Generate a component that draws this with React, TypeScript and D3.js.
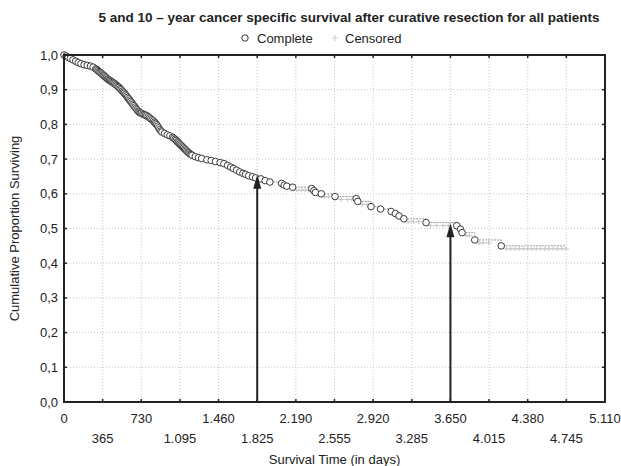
import * as d3 from "d3";

const W = 621;
const H = 466;
const M = { top: 55, right: 16, bottom: 64, left: 64 };

const TITLE = "5 and 10 – year cancer specific survival after curative resection for all patients";
const X_LABEL = "Survival Time (in days)";
const Y_LABEL = "Cumulative Proportion Surviving";

const xTicks = [0, 365, 730, 1095, 1460, 1825, 2190, 2555, 2920, 3285, 3650, 4015, 4380, 4745, 5110];
const yTicks = [0, 0.1, 0.2, 0.3, 0.4, 0.5, 0.6, 0.7, 0.8, 0.9, 1.0];

// complete (event) times and survival estimate
const eventTimes = [
  0, 20, 40, 60, 85, 110, 135, 160, 190, 220, 250, 275, 300, 320, 340, 360, 380, 400, 420, 440,
  460, 480, 500, 520, 540, 560, 580, 600, 620, 640, 660, 680, 700, 720, 745, 770, 795, 820, 845,
  865, 885, 905, 925, 950, 975, 1000, 1025, 1050, 1070, 1090, 1110, 1130, 1150, 1170, 1190, 1210,
  1240, 1270, 1300, 1350, 1390, 1430, 1475, 1510, 1545, 1575, 1600, 1630, 1660, 1690, 1715, 1745,
  1780, 1810, 1860, 1900, 1945, 2055, 2080, 2105, 2160, 2340, 2360, 2375, 2430, 2560, 2760, 2775,
  2900, 2990, 3090, 3130, 3165, 3210, 3420, 3710, 3745, 3760, 3880, 4130,
];
const eventSurv = [
  1.0, 0.997, 0.993, 0.99, 0.986, 0.982, 0.978, 0.975, 0.972, 0.97, 0.968, 0.965, 0.96, 0.955,
  0.95, 0.945, 0.94, 0.934, 0.929, 0.925, 0.921, 0.917, 0.912, 0.907, 0.9, 0.893, 0.886, 0.878,
  0.87, 0.862, 0.854, 0.846, 0.838, 0.833, 0.83, 0.827, 0.822, 0.816, 0.81, 0.803, 0.795, 0.785,
  0.778, 0.774, 0.77, 0.767, 0.763, 0.757, 0.75, 0.744, 0.738, 0.732, 0.726, 0.72, 0.715, 0.711,
  0.707, 0.704, 0.702, 0.698, 0.696, 0.693, 0.69, 0.687, 0.682, 0.677, 0.673, 0.668, 0.663, 0.659,
  0.656, 0.652, 0.649, 0.646, 0.643, 0.638, 0.634, 0.63, 0.625, 0.622, 0.619, 0.615, 0.609, 0.604,
  0.6, 0.592, 0.586, 0.578, 0.563, 0.556, 0.549, 0.543, 0.536, 0.528, 0.517, 0.508, 0.498, 0.488,
  0.467, 0.45,
];

// more events in the crowded first years
const denseTimes = [
  310, 330, 350, 370, 390, 410, 430, 450, 470, 490, 510, 530, 550, 570, 590, 610, 630, 650, 670,
  690, 710, 730, 757, 782, 808, 832, 855, 875, 895, 915, 1037, 1060, 1080, 1100, 1120, 1140, 1160,
  1180, 1200,
];
const denseSurv = [
  0.958, 0.952, 0.948, 0.942, 0.937, 0.931, 0.927, 0.923, 0.919, 0.914, 0.909, 0.903, 0.896, 0.89,
  0.882, 0.874, 0.866, 0.858, 0.85, 0.842, 0.836, 0.832, 0.828, 0.825, 0.819, 0.813, 0.806, 0.799,
  0.79, 0.781, 0.76, 0.754, 0.747, 0.741, 0.735, 0.729, 0.723, 0.718, 0.713,
];

// censored observations
const censoredTimes = [
  2200, 2240, 2280, 2310, 2460, 2500, 2620, 2680, 2720, 2820, 2860, 3250, 3300, 3350, 3460, 3520,
  3580, 3630, 3800, 3830, 3920, 3960, 4010, 4180, 4220, 4260, 4300, 4340, 4380, 4420, 4460, 4500,
  4540, 4580, 4620, 4660, 4700, 4740,
];

// arrows marking 5- and 10-year survival
const arrowTimes = [1825, 3650];
const arrowSurv = [0.655, 0.515];

const fmt = d3.formatLocale({ decimal: ",", thousands: ".", grouping: [3], currency: ["", ""] });
const fmtX = fmt.format(",d");
const fmtY = fmt.format(".1f");

const FONT = "'Liberation Sans', Arial, sans-serif";
const FS = 13;

export default function App() {
  const x = d3.scaleLinear().domain([0, 5110]).range([M.left, W - M.right]);
  const y = d3.scaleLinear().domain([0, 1]).range([H - M.bottom, M.top]);

  const events: [number, number][] = eventTimes
    .map((t, i) => [t, eventSurv[i]] as [number, number])
    .concat(denseTimes.map((t, i) => [t, denseSurv[i]] as [number, number]))
    .sort((a, b) => a[0] - b[0]);

  const survAt = (t: number) => {
    let s = 1;
    events.forEach((e) => {
      if (e[0] <= t) s = e[1];
    });
    return s;
  };

  const stepPts: [number, number][] = events.slice();
  stepPts.push([4745, events[events.length - 1][1]]);
  const line = d3
    .line<[number, number]>()
    .x((d) => x(d[0]))
    .y((d) => y(d[1]))
    .curve(d3.curveStepAfter);

  const x0 = x(0);
  const x1 = x(5110);
  const y0 = y(0);
  const y1 = y(1);

  return (
    <svg width={W} height={H} style={{ position: "absolute", left: 0, top: 0, background: "#fff" }} fontFamily={FONT}>
      <rect width={W} height={H} fill="#fff" />
      <text x={349} y={22} textAnchor="middle" fontSize={13.5} fontWeight="bold" fill="#222">
        {TITLE}
      </text>
      {/* legend */}
      <circle cx={245} cy={38} r={3.2} fill="#fff" stroke="#333" strokeWidth={1} />
      <text x={257} y={43} fontSize={FS} fill="#222">Complete</text>
      <g stroke="#ccc" strokeWidth={1}>
        <line x1={332} x2={338} y1={38} y2={38} />
        <line x1={335} x2={335} y1={35} y2={41} />
      </g>
      <text x={345} y={43} fontSize={FS} fill="#222">Censored</text>

      {/* grid */}
      <g stroke="#c8c8c8" strokeWidth={1} strokeDasharray="1,2">
        {xTicks.slice(1, -1).map((t) => (
          <line key={"gx" + t} x1={x(t)} x2={x(t)} y1={y1} y2={y0} />
        ))}
        {yTicks.slice(1, -1).map((t) => (
          <line key={"gy" + t} x1={x0} x2={x1} y1={y(t)} y2={y(t)} />
        ))}
      </g>

      {/* step line */}
      <path d={line(stepPts) ?? ""} fill="none" stroke="#9a9a9a" strokeWidth={1} strokeDasharray="2,1" />

      {/* censored */}
      <g stroke="#c4c4c4" strokeWidth={1}>
        {censoredTimes.map((t, i) => {
          const cx = x(t);
          const cy = y(survAt(t)) + 3;
          return (
            <g key={"c" + i}>
              <line x1={cx - 3} x2={cx + 3} y1={cy} y2={cy} />
              <line x1={cx} x2={cx} y1={cy - 2} y2={cy + 2} />
            </g>
          );
        })}
      </g>

      {/* complete */}
      <g fill="#fff" stroke="#3a3a3a" strokeWidth={1}>
        {events.map((d, i) => (
          <circle key={"e" + i} cx={x(d[0])} cy={y(d[1])} r={3.3} />
        ))}
      </g>

      {/* arrows */}
      {arrowTimes.map((t, i) => {
        const ax = x(t);
        const tip = y(arrowSurv[i]);
        return (
          <g key={"a" + i} fill="#222" stroke="#222">
            <line x1={ax} x2={ax} y1={y0} y2={tip + 10} strokeWidth={2} />
            <path d={`M${ax},${tip} L${ax - 4},${tip + 14} L${ax + 4},${tip + 14} Z`} stroke="none" />
          </g>
        );
      })}

      {/* frame */}
      <rect x={x0} y={y1} width={x1 - x0} height={y0 - y1} fill="none" stroke="#222" strokeWidth={2} />
      {/* inner ticks */}
      <g stroke="#222" strokeWidth={1.5}>
        {xTicks.slice(1, -1).map((t) => (
          <g key={"tx" + t}>
            <line x1={x(t)} x2={x(t)} y1={y0} y2={y0 - 3} />
            <line x1={x(t)} x2={x(t)} y1={y1} y2={y1 + 3} />
          </g>
        ))}
        {yTicks.slice(1, -1).map((t) => (
          <g key={"ty" + t}>
            <line x1={x0} x2={x0 + 3} y1={y(t)} y2={y(t)} />
            <line x1={x1} x2={x1 - 3} y1={y(t)} y2={y(t)} />
          </g>
        ))}
      </g>

      {/* y labels */}
      {yTicks.map((t) => (
        <text key={"ly" + t} x={x0 - 6} y={y(t) + 4.5} textAnchor="end" fontSize={FS} fill="#222">
          {fmtY(t)}
        </text>
      ))}
      {/* x labels, two rows */}
      {xTicks.map((t, i) => (
        <text key={"lx" + t} x={x(t)} y={i % 2 === 0 ? 423 : 443} textAnchor="middle" fontSize={FS} fill="#222">
          {fmtX(t)}
        </text>
      ))}
      <text x={(x0 + x1) / 2} y={464} textAnchor="middle" fontSize={FS} fill="#222">
        {X_LABEL}
      </text>
      <text
        transform={`translate(19,${(y0 + y1) / 2}) rotate(-90)`}
        textAnchor="middle"
        fontSize={FS}
        fill="#222"
      >
        {Y_LABEL}
      </text>
    </svg>
  );
}
